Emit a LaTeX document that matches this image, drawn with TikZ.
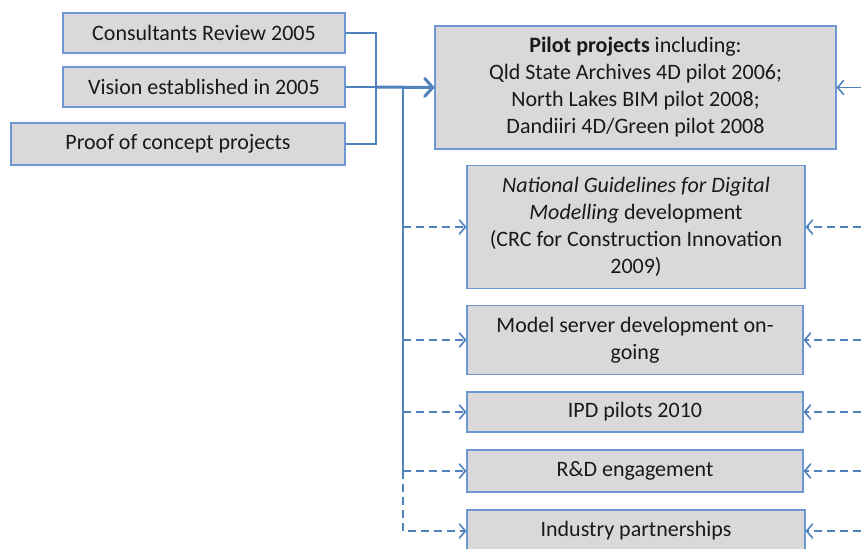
\documentclass[tikz,border=0pt]{standalone}
\usepackage{fontspec}
\setmainfont{Carlito}
\usetikzlibrary{arrows.meta}
\definecolor{boxfill}{RGB}{217,217,217}
\definecolor{boxline}{RGB}{110,152,212}
\definecolor{link}{RGB}{79,129,189}
\tikzset{stage/.style = {draw=boxline, fill=boxfill, line width=0.8pt, align=center, inner sep=0, text=black!90, font=\fontsize{11}{13.5}\selectfont}}
\tikzset{link/.style = {draw=link, line width=0.8pt}}
\tikzset{feed/.style = {link, dash pattern=on 4pt off 2.5pt, -{Straight Barb[length=3pt,width=7pt,line width=0.8pt,round]}}}

\begin{document}
\begin{tikzpicture}[x=0.5pt, y=-0.5pt]
      \useasboundingbox (0,0) rectangle (861,548);

      \node [stage, minimum width=141pt, minimum height=20pt] at (204, 33) (cons) {Consultants Review 2005};
      \node [stage, minimum width=141pt, minimum height=20pt] at (204, 87) (vision) {Vision established in 2005};
      \node [stage, minimum width=167pt, minimum height=21pt] at (178, 144) (proof) {Proof of concept projects};

      \node [stage, minimum width=200.5pt, minimum height=61.5pt] at (635.5, 87.5) (pilot)
        {\textbf{Pilot projects} including:\\ Qld State Archives 4D pilot 2006;\\ North Lakes BIM pilot 2008;\\ Dandiiri 4D/Green pilot 2008};
      \node [stage, minimum width=169pt, minimum height=61.5pt] at (636, 227) (guide)
        {\textit{National Guidelines for Digital}\\ \textit{Modelling} development\\ (CRC for Construction Innovation\\ 2009)};
      \node [stage, minimum width=168pt, minimum height=34.5pt] at (635, 340) (server) {Model server development on-\\going};
      \node [stage, minimum width=168pt, minimum height=20pt] at (635, 412) (ipd) {IPD pilots 2010};
      \node [stage, minimum width=168pt, minimum height=21pt] at (635, 471) (rd) {R\&D engagement};
      \node [stage, minimum width=169pt, minimum height=21pt] at (636, 531) (ind) {Industry partnerships};

      \coordinate (join) at (376, 87);
      \coordinate (split) at (403, 87);

      % inputs on the left
      \draw [link] (cons.east) -| (join);
      \draw [link] (proof.east) -| (join);
      \draw [link] (vision.east) -- (join);
      \draw [link, line width=1.5pt, -{Straight Barb[length=4pt,width=9pt,line width=1.5pt,round]}] (join) -- (pilot.west);

      % branch down
      \draw [link] (split) -- (split |- rd.west);
      \draw [feed] (split |- rd.west) |- (ind.west);
      \draw [feed] (split |- guide.west) -- (guide.west);
      \draw [feed] (split |- server.west) -- (server.west);
      \draw [feed] (split |- ipd.west) -- (ipd.west);
      \draw [feed] (split |- rd.west) -- (rd.west);

      % feedback from the right edge
      \coordinate (edge) at (861, 0);
      \draw [link, -{Straight Barb[length=3pt,width=7pt,line width=0.8pt,round]}] (edge |- pilot.east) -- (pilot.east);
      \draw [feed] (edge |- guide.east) -- (guide.east);
      \draw [feed] (edge |- server.east) -- (server.east);
      \draw [feed] (edge |- ipd.east) -- (ipd.east);
      \draw [feed] (edge |- rd.east) -- (rd.east);
      \draw [feed] (edge |- ind.east) -- (ind.east);
    \end{tikzpicture}
\end{document}
